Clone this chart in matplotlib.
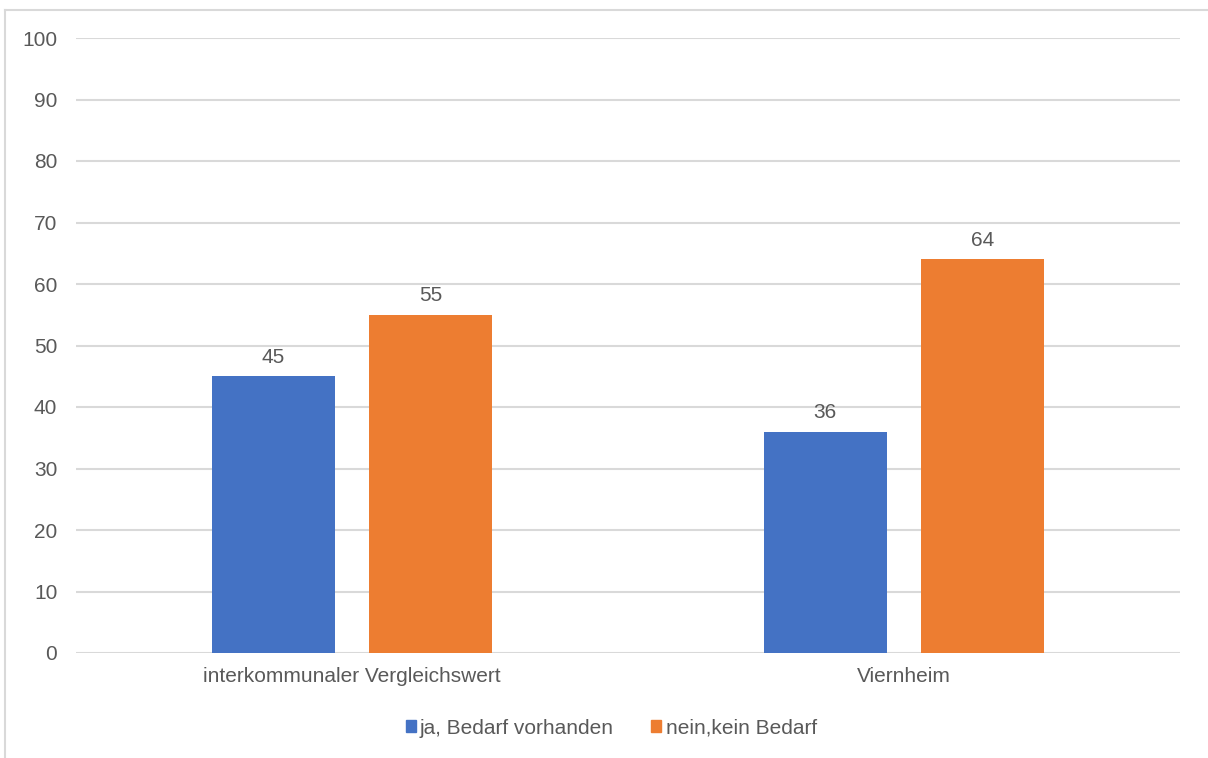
import matplotlib
matplotlib.use("Agg")
import matplotlib.pyplot as plt
from matplotlib.lines import Line2D
from matplotlib.patches import Rectangle
import numpy as np

categories = ["interkommunaler Vergleichswert", "Viernheim"]
series_names = ["ja, Bedarf vorhanden", "nein,kein Bedarf"]
ja_values = [45, 36]
nein_values = [55, 64]
y_ticks = [0, 10, 20, 30, 40, 50, 60, 70, 80, 90, 100]

plt.rcParams["font.family"] = ["Liberation Sans", "DejaVu Sans"]
TEXT = "#595959"
GRID = "#d9d9d9"
BLUE = "#4472c4"
ORANGE = "#ed7d31"
FS = 15

W, H = 1208, 758
fig = plt.figure(figsize=(W / 100, H / 100), dpi=100)

# chart frame (top and left edges)
fig.add_artist(Line2D([4.5 / W, 4.5 / W], [0, 1 - 9.5 / H], color=GRID, lw=1.5))
fig.add_artist(Line2D([4.5 / W, 1], [1 - 9.5 / H, 1 - 9.5 / H], color=GRID, lw=1.5))

left, right = 76 / W, 1180 / W
bottom, top = 1 - 653 / H, 1 - 38 / H
ax = fig.add_axes([left, bottom, right - left, top - bottom])

x = np.arange(len(categories))
width = 0.223
offset = 0.143
b1 = ax.bar(x - offset, ja_values, width, color=BLUE, zorder=3)
b2 = ax.bar(x + offset, nein_values, width, color=ORANGE, zorder=3)

for bars, vals in ((b1, ja_values), (b2, nein_values)):
    for rect, v in zip(bars, vals):
        ax.annotate(f"{v}", (rect.get_x() + rect.get_width() / 2, v),
                    xytext=(0, 7), textcoords="offset points",
                    ha="center", va="bottom", fontsize=FS, color=TEXT)

ax.set_xlim(-0.5, 1.5)
ax.set_ylim(0, 100)
ax.set_yticks(y_ticks)
ax.set_yticklabels([str(t) for t in y_ticks])
ax.set_xticks(x)
ax.set_xticklabels(categories)
ax.tick_params(axis="y", length=0, pad=13.5, labelsize=FS, labelcolor=TEXT)
ax.tick_params(axis="x", length=0, pad=10, labelsize=FS, labelcolor=TEXT)
ax.grid(axis="y", color=GRID, lw=1.5, zorder=0)
for s in ax.spines.values():
    s.set_visible(False)

handles = [Rectangle((0, 0), 1, 1, color=BLUE), Rectangle((0, 0), 1, 1, color=ORANGE)]
leg = fig.legend(handles, series_names, loc="center", bbox_to_anchor=(0.506, 1 - 728 / H),
                 ncol=2, frameon=False, fontsize=FS, handlelength=0.48, handleheight=0.48,
                 handletextpad=0.2, columnspacing=1.8)
for t in leg.get_texts():
    t.set_color(TEXT)

fig.savefig("out.png", dpi=100)
